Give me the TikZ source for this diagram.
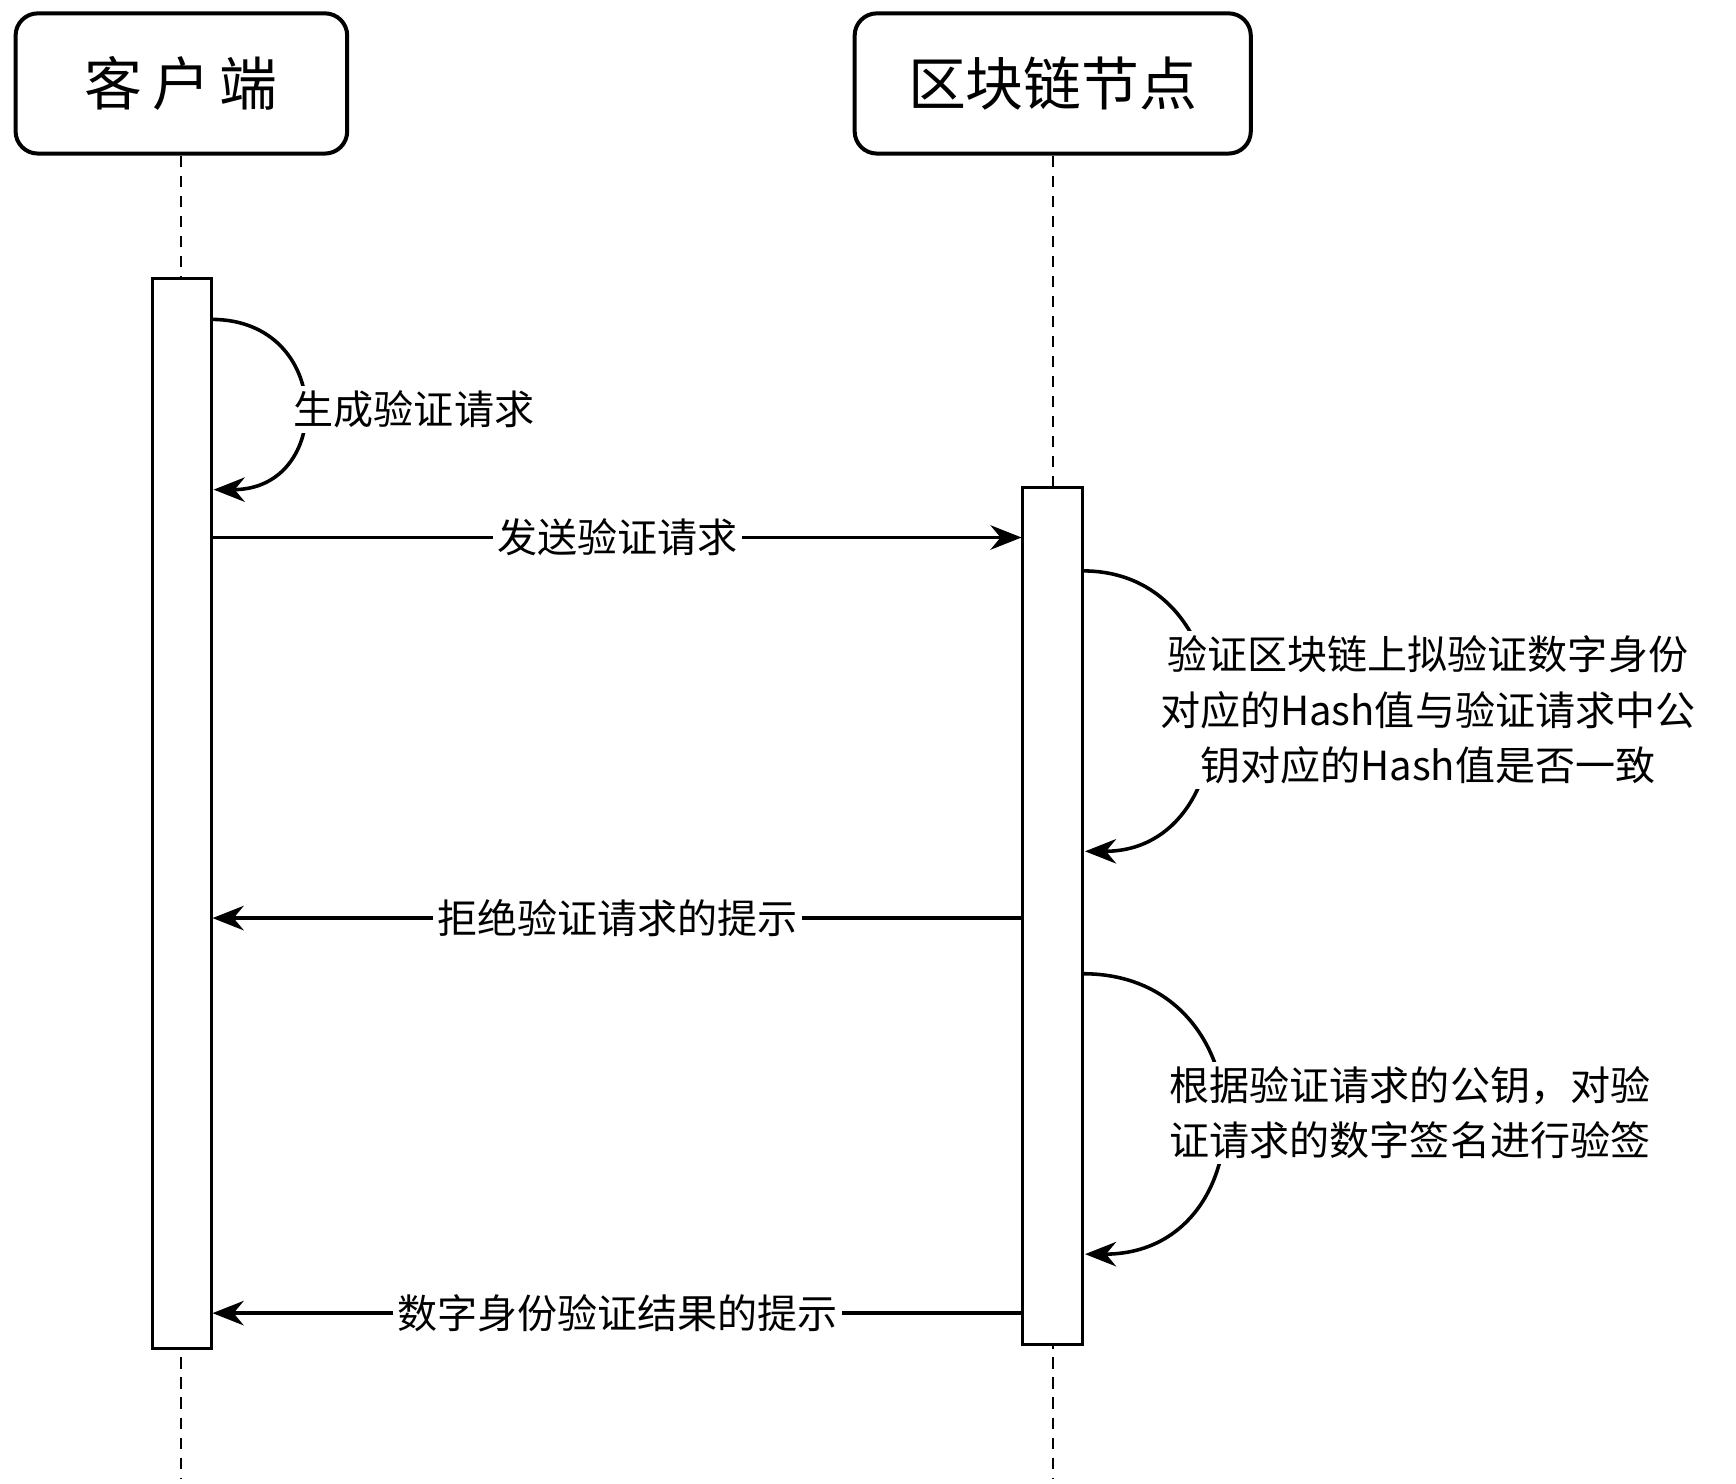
\documentclass[tikz,border=0pt]{standalone}
\usepackage{fontspec}
\setmainfont{Noto Sans CJK SC}
\usetikzlibrary{arrows.meta}
\begin{document}
\begin{tikzpicture}[x=0.5pt,y=-0.5pt,
  head/.style={draw,line width=1.8pt,rounded corners=10pt,minimum width=149pt,minimum height=63pt,font=\fontsize{26}{30}\selectfont},
  act/.style={draw,line width=1.5pt,fill=white},
  life/.style={line width=0.9pt,dash pattern=on 5pt off 4pt},
  msg/.style={line width=1.6pt,-{Stealth[length=14pt,width=11pt]}},
  lbl/.style={fill=white,font=\fontsize{18}{25}\selectfont,inner sep=2pt,align=center}]
\useasboundingbox (0,0) rectangle (1560,1333);
\node[head] (c) at (163,75) {客\,户\,端};
\node[head,minimum width=178pt] (b) at (946,75) {区块链节点};
\coordinate (ce) at (163,1328);
\coordinate (be) at (946,1328);
\draw[life] (c.south) -- (ce);
\draw[life] (b.south) -- (be);
\draw[act] (137,250) rectangle (190,1212);
\draw[act] (919,438) rectangle (973,1208);
% self 1
\coordinate (a1) at (190,287); \coordinate (a2) at (192,440);
\draw[msg] (a1) .. controls (300,287) and (300,440) .. (a2);
\node[lbl] (l1) at (372,368) {生成验证请求};
% msg 1
\coordinate (m1s) at (190,483); \coordinate (m1e) at (918,483);
\draw[msg] (m1s) -- (m1e);
\node[lbl] (l2) at (555,483) {发送验证请求};
% self 2
\coordinate (b1) at (973,513); \coordinate (b2) at (975,765);
\draw[msg] (b1) .. controls (1125,513) and (1125,765) .. (b2);
\node[lbl] (l3) at (1283,638) {验证区块链上拟验证数字身份\\对应的Hash值与验证请求中公\\钥对应的Hash值是否一致};
% msg 2
\coordinate (m2s) at (919,825); \coordinate (m2e) at (191,825);
\draw[msg] (m2s) -- (m2e);
\node[lbl] (l4) at (555,825) {拒绝验证请求的提示};
% self 3
\coordinate (d1) at (973,875); \coordinate (d2) at (975,1127);
\draw[msg] (d1) .. controls (1140,875) and (1140,1127) .. (d2);
\node[lbl,align=left] (l5) at (1267,1000) {根据验证请求的公钥，对验\\证请求的数字签名进行验签};
% msg 3
\coordinate (m3s) at (919,1180); \coordinate (m3e) at (191,1180);
\draw[msg] (m3s) -- (m3e);
\node[lbl] (l6) at (555,1180) {数字身份验证结果的提示};
\end{tikzpicture}
\end{document}
